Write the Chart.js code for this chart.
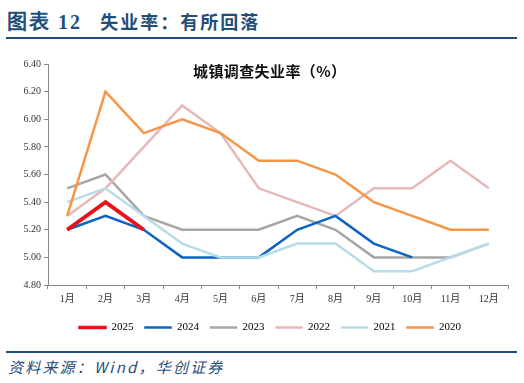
<!DOCTYPE html>
<html lang="zh-CN">
<head>
  <meta charset="UTF-8" />
  <title>失业率：有所回落</title>
  <script src="https://cdn.jsdelivr.net/npm/chart.js"></script>
  <style>
    body { margin: 0; width: 524px; height: 383px; background: #fff; position: relative; overflow: hidden; }
    .head {
      position: absolute; left: 7px; top: 6px;
      font-family: "Noto Sans CJK SC", sans-serif; font-weight: bold;
      font-size: 18px; color: #1f4e79; letter-spacing: 2px; white-space: nowrap;
    }
    .head .num { font-family: "Liberation Serif", serif; font-size: 20px; }
    .rule { position: absolute; left: 6px; width: 511px; height: 2px; background: #1f4e79; }
    .ctitle {
      position: absolute; left: 193px; top: 60px; white-space: nowrap;
      font-family: "Noto Sans CJK SC", sans-serif; font-weight: bold; letter-spacing: 0.4px;
      font-size: 15px; color: #111;
    }
    .src {
      position: absolute; left: 8px; top: 356px;
      font-family: "Noto Sans CJK SC", sans-serif; font-style: italic;
      font-size: 15px; color: #1f4e79; letter-spacing: 2.2px; white-space: nowrap;
    }
    .wrap { position: absolute; left: 0; top: 45px; width: 540px; height: 300px; }
  </style>
</head>
<body>
  <div class="head"><span class="num">图表 12</span>&nbsp;&nbsp;&nbsp;失业率：有所回落</div>
  <div class="rule" style="top:37px"></div>
  <div class="wrap"><canvas id="chart"></canvas></div>
  <div class="ctitle">城镇调查失业率（%）</div>
  <div class="rule" style="top:351px"></div>
  <div class="src">资料来源：Wind，华创证券</div>

  <script>
    const months = ['1月', '2月', '3月', '4月', '5月', '6月', '7月', '8月', '9月', '10月', '11月', '12月'];
    const y2025 = [5.2, 5.4, 5.2];
    const y2024 = [5.2, 5.3, 5.2, 5.0, 5.0, 5.0, 5.2, 5.3, 5.1, 5.0];
    const y2023 = [5.5, 5.6, 5.3, 5.2, 5.2, 5.2, 5.3, 5.2, 5.0, 5.0, 5.0, 5.1];
    const y2022 = [5.3, 5.5, 5.8, 6.1, 5.9, 5.5, 5.4, 5.3, 5.5, 5.5, 5.7, 5.5];
    const y2021 = [5.4, 5.5, 5.3, 5.1, 5.0, 5.0, 5.1, 5.1, 4.9, 4.9, 5.0, 5.1];
    const y2020 = [5.3, 6.2, 5.9, 6.0, 5.9, 5.7, 5.7, 5.6, 5.4, 5.3, 5.2, 5.2];
    const yMin = 4.8, yMax = 6.4, yStep = 0.2;

    const serif = "'Liberation Serif', 'Noto Sans CJK SC', serif";

    function line(label, data, color, width, order) {
      return { label: label, data: data, borderColor: color, backgroundColor: color,
               borderWidth: width, pointRadius: 0, tension: 0, order: order };
    }

    // legend in the original sits a bit right of the canvas centre
    const legendShift = {
      id: 'legendShift',
      afterLayout(chart) {
        chart.legend.left += 16;
        chart.legend.right += 16;
      }
    };

    new Chart(document.getElementById('chart'), {
      type: 'line',
      data: {
        labels: months,
        datasets: [
          line('2025', y2025, '#e8121c', 4, 0),
          line('2024', y2024, '#0b63c4', 2.5, 3),
          line('2023', y2023, '#a6a6a6', 2.5, 5),
          line('2022', y2022, '#e6b9b8', 2.5, 4),
          line('2021', y2021, '#b7dde8', 2.5, 2),
          line('2020', y2020, '#f79646', 2.5, 1)
        ]
      },
      plugins: [legendShift],
      options: {
        responsive: true,
        maintainAspectRatio: false,
        animation: false,
        layout: { padding: { left: 0, right: 32, top: 19, bottom: 2 } },
        plugins: {
          title: { display: false },
          tooltip: { enabled: false },
          legend: {
            position: 'bottom',
            labels: {
              font: { family: serif, size: 11 },
              color: '#333',
              boxWidth: 27,
              boxHeight: 2,
              padding: 11,
              sort: (a, b) => a.datasetIndex - b.datasetIndex,
              generateLabels: (chart) => chart.data.datasets.map((d, i) => ({
                text: d.label, fillStyle: d.borderColor, strokeStyle: d.borderColor,
                lineWidth: i === 0 ? 1.5 : 0.5, datasetIndex: i
              }))
            }
          }
        },
        scales: {
          x: {
            offset: true,
            afterFit: (s) => { s.height += 2; },
            grid: { offset: true, drawOnChartArea: false, color: '#888', tickLength: 4 },
            border: { color: '#888' },
            ticks: { font: { family: serif, size: 10 }, color: '#333', maxRotation: 0, padding: 4 }
          },
          y: {
            min: yMin, max: yMax,
            afterFit: (s) => { s.width = 48; },
            grid: { drawOnChartArea: false, color: '#888', tickLength: 4 },
            border: { color: '#888' },
            ticks: { stepSize: yStep, font: { family: serif, size: 10 }, color: '#333',
                     callback: (v) => Number(v).toFixed(2) }
          }
        }
      }
    });
  </script>
</body>
</html>
